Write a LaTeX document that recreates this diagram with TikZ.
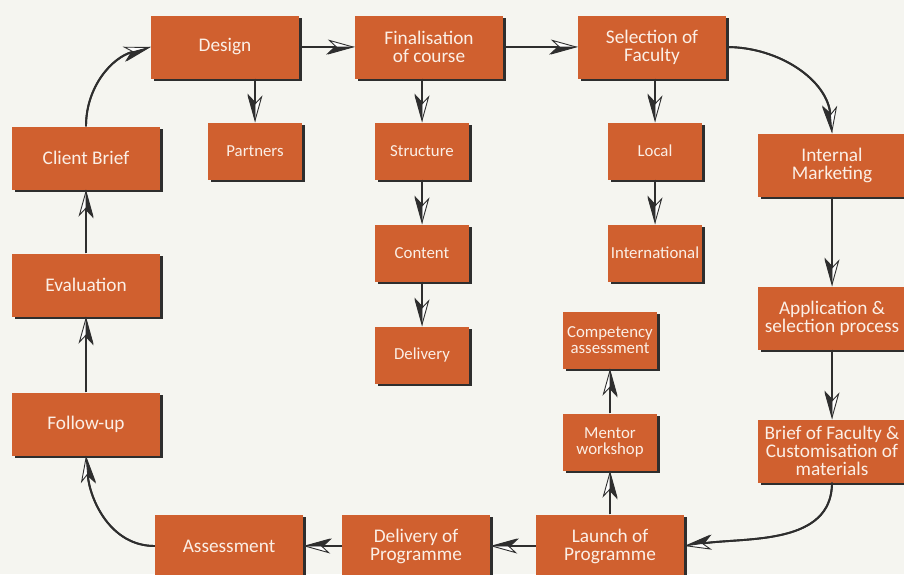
\documentclass[tikz,border=0pt]{standalone}
\usepackage{fontspec}
\setmainfont{Carlito}
\usetikzlibrary{arrows.meta,shadows}
\definecolor{bg}{HTML}{F5F5F0}
\definecolor{boxc}{HTML}{D0602F}
\definecolor{linec}{HTML}{2E2E2E}
\definecolor{txtc}{HTML}{FBEFE6}
\tikzset{
  big/.style={rectangle, fill=boxc, text=txtc, align=center, inner sep=0pt,
    minimum width=148pt, minimum height=63pt,
    font=\fontsize{19.3}{18}\selectfont,
    drop shadow={shadow xshift=2.5pt, shadow yshift=-2.5pt, fill=linec, opacity=1}},
  small/.style={big, minimum width=94pt, minimum height=57pt, font=\fontsize{16.8}{16}\selectfont},
  conn/.style={draw=linec, line width=1.9pt,
    -{Stealth[length=27pt,width=15pt,inset=8pt,fill=white,line width=0.9pt]},
    postaction={draw=linec, line width=1.9pt,
      -{Stealth[harpoon,swap,length=27pt,width=15pt,inset=8pt,fill=linec,line width=0.9pt]}}}
}
\begin{document}
\begin{tikzpicture}[x=1pt,y=-1pt]
\fill[bg] (0,0) rectangle (904,574);
\useasboundingbox (0,0) rectangle (904,574);
% top row
\node[big] (design) at (225,47) {Design};
\node[big] (final) at (429,47) {Finalisation\\of course};
\node[big] (select) at (652,47) {Selection of\\Faculty};
% sub boxes
\node[small] (partners) at (255,151) {Partners};
\node[small] (structure) at (422,151) {Structure};
\node[small] (content) at (422,253) {Content};
\node[small] (delivery) at (422,355) {Delivery};
\node[small] (local) at (655,151) {Local};
\node[small] (intl) at (655,253) {International};
% right column
\node[big] (internal) at (832,165) {Internal\\Marketing};
\node[big] (appl) at (832,318) {Application \&\\selection process};
\node[big] (brief) at (832,451) {Brief of Faculty \&\\Customisation of\\materials};
% bottom row
\node[big] (launch) at (610,546) {Launch of\\Programme};
\node[big] (delprog) at (416,546) {Delivery of\\Programme};
\node[big] (assess) at (229,546) {Assessment};
\node[small] (mentor) at (610,442) {Mentor\\workshop};
\node[small] (comp) at (610,340) {Competency\\assessment};
% left column
\node[big] (follow) at (86,424) {Follow-up};
\node[big] (eval) at (86,285) {Evaluation};
\node[big] (client) at (86,158) {Client Brief};
% connectors
\draw[conn] (client.north) to[out=90,in=195] (design.west);
\draw[conn] (design) -- (final);
\draw[conn] (final) -- (select);
\draw[conn] (select.east) to[out=0,in=95] (internal.north);
\draw[conn] (design.south -| partners.north) -- (partners.north);
\draw[conn] (final.south -| structure.north) -- (structure.north);
\draw[conn] (structure) -- (content);
\draw[conn] (content) -- (delivery);
\draw[conn] (select.south -| local.north) -- (local.north);
\draw[conn] (local) -- (intl);
\draw[conn] (internal) -- (appl);
\draw[conn] (appl) -- (brief);
\draw[conn] (brief.south) to[out=-90,in=8] (launch.east);
\draw[conn] (launch) -- (delprog);
\draw[conn] (delprog) -- (assess);
\draw[conn] (assess.west) to[out=180,in=-85] (follow.south);
\draw[conn] (follow) -- (eval);
\draw[conn] (eval) -- (client);
\draw[conn] (launch) -- (mentor);
\draw[conn] (mentor) -- (comp);
\end{tikzpicture}
\end{document}
